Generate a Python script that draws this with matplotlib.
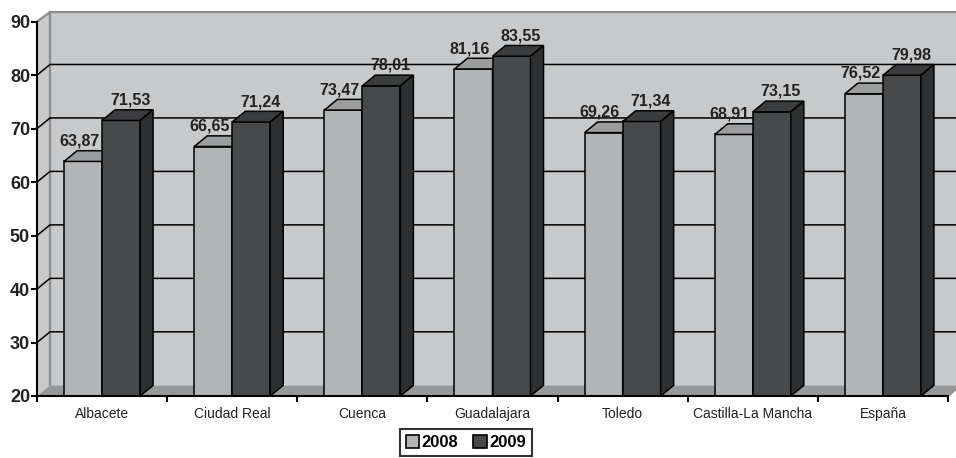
import matplotlib
matplotlib.use('Agg')
import matplotlib.pyplot as plt
from matplotlib.patches import Polygon, Patch

categories = ['Albacete', 'Ciudad Real', 'Cuenca', 'Guadalajara', 'Toledo',
              'Castilla-La Mancha', 'España']
series_names = ['2008', '2009']
values_2008 = [63.87, 66.65, 73.47, 81.16, 69.26, 68.91, 76.52]
values_2009 = [71.53, 71.24, 78.01, 83.55, 71.34, 73.15, 79.98]
y_ticks = [20, 30, 40, 50, 60, 70, 80, 90]

front_colors = ['#b3b4b6', '#48494b']
top_colors = ['#9c9d9f', '#3b3c3e']
side_colors = ['#8d8e90', '#2e2f31']
wall_color = '#c8c9cb'
floor_color = '#97989a'
border_color = '#8c8c8c'

font = ['Liberation Sans', 'DejaVu Sans']

# fake 3d depth, in data units
dx = 0.1
dy = 2.0
bar_w = 0.292
base = y_ticks[0]
top = y_ticks[-1]
x_lo, x_hi = -0.5, len(categories) - 0.5


def poly(ax, pts, fc, z, ec='black', lw=1.1):
    p = Polygon(pts, closed=True, fc=fc, ec=ec, lw=lw, zorder=z,
                clip_on=False, joinstyle='miter')
    ax.add_patch(p)


def bar3d(ax, x0, v, k, z):
    x1 = x0 + bar_w
    poly(ax, [(x0, base), (x1, base), (x1, v), (x0, v)], front_colors[k], z)
    poly(ax, [(x0, v), (x1, v), (x1 + dx, v + dy), (x0 + dx, v + dy)], top_colors[k], z)
    poly(ax, [(x1, base), (x1 + dx, base + dy), (x1 + dx, v + dy), (x1, v)], side_colors[k], z)


fig = plt.figure(figsize=(9.56, 4.58), dpi=100)
ax = fig.add_axes([37 / 956, 62 / 458, 911 / 956, 374.3 / 458])
ax.set_xlim(x_lo, x_hi)
ax.set_ylim(base, top)
ax.set_facecolor('none')

# walls and floor
wall_top = top + 1.8
poly(ax, [(x_lo + dx, base + dy), (x_hi + dx, base + dy), (x_hi + dx, wall_top),
          (x_lo + dx, wall_top)], wall_color, 0, ec='none')
poly(ax, [(x_lo, base), (x_lo + dx, base + dy), (x_lo + dx, wall_top), (x_lo, top)],
     wall_color, 0, ec='none')
poly(ax, [(x_lo, base), (x_hi, base), (x_hi + dx, base + dy), (x_lo + dx, base + dy)],
     floor_color, 0.5, ec='none')
ax.plot([x_lo, x_lo + dx, x_hi + dx], [top, wall_top, wall_top], color=border_color,
        lw=1.6, clip_on=False, zorder=0.6)
ax.plot([x_lo + dx, x_lo + dx], [base + dy, wall_top], color=border_color,
        lw=1.6, clip_on=False, zorder=0.6)
ax.plot([x_hi, x_hi + dx], [base, base + dy], color=border_color,
        lw=1.2, clip_on=False, zorder=0.6)
for v in y_ticks[1:-1]:
    ax.plot([x_lo, x_lo + dx, x_hi + dx], [v, v + dy, v + dy], color='black',
            lw=1.1, clip_on=False, zorder=0.7)

# bars
z = 3
for i in range(len(categories)):
    for k, vals in enumerate([values_2008, values_2009]):
        x0 = i - bar_w + k * bar_w
        bar3d(ax, x0, vals[i], k, z)
        z += 0.01

# value labels
for i in range(len(categories)):
    for k, vals in enumerate([values_2008, values_2009]):
        xc = i - bar_w / 2 + k * bar_w + (-0.03 if k == 0 else 0.07)
        ax.text(xc, vals[i] + dy + 0.4, f'{vals[i]:.2f}'.replace('.', ','),
                ha='center', va='bottom', fontsize=11.5, fontweight='bold',
                family=font, color='#222222', zorder=10)

# axes
for s in ['top', 'right']:
    ax.spines[s].set_visible(False)
for s in ['left', 'bottom']:
    ax.spines[s].set_linewidth(1.5)
    ax.spines[s].set_zorder(5)
ax.set_yticks(y_ticks)
ax.set_yticklabels([str(t) for t in y_ticks], fontsize=13, fontweight='bold',
                   family=font, color='#222222')
ax.tick_params(axis='y', direction='out', length=4.5, width=1.5, pad=0.5)
ax.set_xticks(range(len(categories)))
ax.set_xticklabels(categories, fontsize=10, family=font, color='#222222')
ax.set_xticks([i - 0.5 for i in range(len(categories) + 1)], minor=True)
ax.tick_params(axis='x', which='major', length=0, pad=8)
ax.tick_params(axis='x', which='minor', direction='out', length=4.5, width=1.5)

handles = [Patch(fc=front_colors[k], ec='black', lw=1.2) for k in range(2)]
leg = fig.legend(handles, series_names, loc='center', bbox_to_anchor=(0.4874, 0.034),
                 ncol=2, frameon=True, fancybox=False, edgecolor='black',
                 prop=dict(family=font, weight='bold', size=12),
                 handlelength=0.8, handleheight=0.8, handletextpad=0.15,
                 columnspacing=0.9, borderpad=0.35, borderaxespad=0)
leg.get_frame().set_linewidth(1.5)

fig.savefig('out.png', dpi=100)
